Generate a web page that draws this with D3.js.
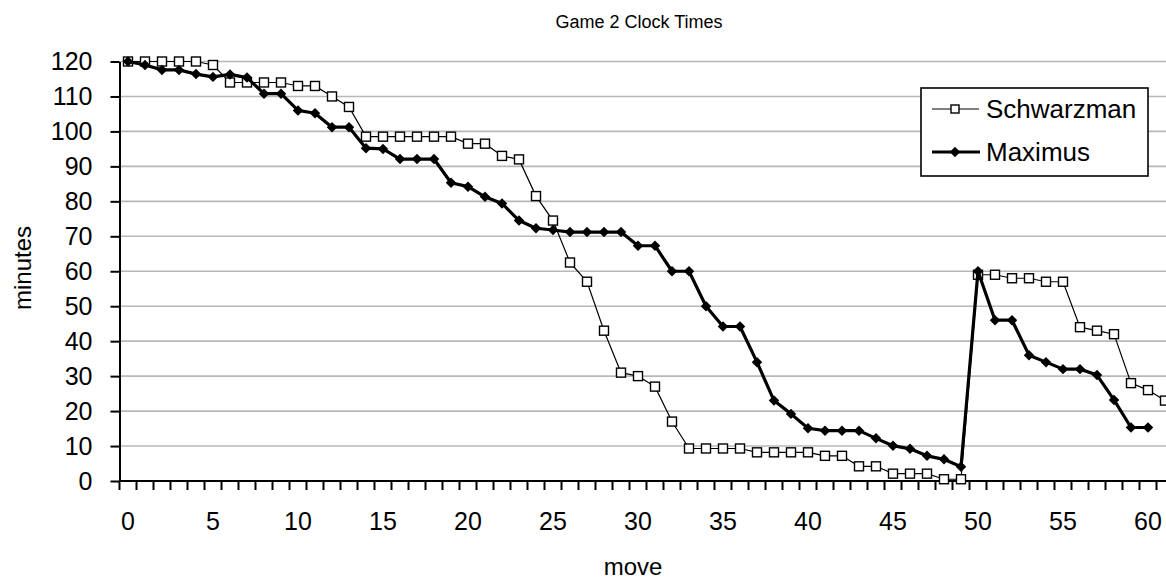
<!DOCTYPE html>
<html>
<head>
<meta charset="utf-8">
<script src="https://cdn.jsdelivr.net/npm/d3@7"></script>
<style>
  html, body { margin: 0; padding: 0; background: #fff; }
  svg { display: block; font-family: "Liberation Sans", Arial, sans-serif; }
</style>
</head>
<body>
<svg id="chart" width="1166" height="579"></svg>
<script>
// ---- data ----
const moves = [0,1,2,3,4,5,6,7,8,9,10,11,12,13,14,15,16,17,18,19,20,21,22,23,24,25,26,27,28,29,30,
  31,32,33,34,35,36,37,38,39,40,41,42,43,44,45,46,47,48,49,50,51,52,53,54,55,56,57,58,59,60,61];
const xTickLabels = [0,5,10,15,20,25,30,35,40,45,50,55,60];
const yTicks = [0,10,20,30,40,50,60,70,80,90,100,110,120];
const schwarzman = [120,120,120,120,120,119,114,114,114,114,113,113,110,107,98.5,98.5,98.5,98.5,98.5,98.5,
  96.5,96.5,93,92,81.5,74.5,62.5,57,43,31,30,27,17,9.3,9.3,9.3,9.3,8.2,8.2,8.2,8.2,7.2,7.2,4.2,4.2,
  2.1,2.1,2.1,0.5,0.5,59,59,58,58,57,57,44,43,42,28,26,23];
const maximus = [120,119,117.6,117.6,116.4,115.6,116.3,115.4,110.8,110.8,106,105.2,101.2,101.2,95.2,95,
  92.1,92.1,92.1,85.3,84.2,81.3,79.4,74.5,72.3,71.8,71.2,71.2,71.2,71.2,67.3,67.3,60,60,50,44.2,44.2,
  34,23,19.2,15.1,14.4,14.4,14.4,12.2,10.1,9.2,7.2,6.2,4.1,60,46,46,36,34,32,32,30.3,23.2,15.3,15.3];
const seriesNames = ["Schwarzman", "Maximus"];
const chartTitle = "Game 2 Clock Times";
const xTitle = "move";
const yTitle = "minutes";

(function () {
// ---- layout ----
const svg = d3.select("#chart");
const plotL = 119.5, plotT = 61.5, plotB = 481;
const bandW = 17;
const plotR = plotL + bandW * moves.length;

const x = d3.scaleBand().domain(moves).range([plotL, plotR]).padding(0);
const xc = d => x(d) + x.bandwidth() / 2;
const y = d3.scaleLinear().domain([0, 120]).range([plotB, plotT]);

// gridlines
svg.append("g")
  .selectAll("line").data(yTicks.filter(t => t > 0)).join("line")
  .attr("x1", plotL).attr("x2", plotR)
  .attr("y1", d => y(d)).attr("y2", d => y(d))
  .attr("stroke", "#b8b8b8").attr("stroke-width", 1.6);

// y axis
const yAxis = d3.axisLeft(y).tickValues(yTicks).tickSize(9).tickPadding(18).tickSizeOuter(0);
const gy = svg.append("g").attr("transform", `translate(${plotL},0)`).call(yAxis);
gy.select(".domain").attr("stroke", "#000").attr("stroke-width", 2);
gy.selectAll(".tick line").attr("stroke", "#000").attr("stroke-width", 2);
gy.selectAll(".tick text").attr("font-size", 25).attr("fill", "#000")
  .attr("font-family", "Liberation Sans, Arial, sans-serif");

// x axis: ticks at category boundaries
const boundaries = moves.map(m => x(m)).concat([plotR]);
svg.append("g").selectAll("line").data(boundaries).join("line")
  .attr("x1", d => d).attr("x2", d => d)
  .attr("y1", plotB).attr("y2", plotB + 9)
  .attr("stroke", "#000").attr("stroke-width", 2);
svg.append("line").attr("x1", plotL).attr("x2", plotR)
  .attr("y1", plotB).attr("y2", plotB).attr("stroke", "#000").attr("stroke-width", 2);
svg.append("g").selectAll("text").data(xTickLabels).join("text")
  .attr("x", d => xc(d)).attr("y", 521)
  .attr("text-anchor", "middle").attr("dominant-baseline", "central")
  .attr("font-size", 25).attr("fill", "#000").text(d => d);

// lines
const lineS = d3.line().x((d, i) => xc(moves[i])).y(d => y(d));
svg.append("path").datum(schwarzman).attr("d", lineS)
  .attr("fill", "none").attr("stroke", "#000").attr("stroke-width", 1.2);
svg.append("g").selectAll("rect").data(schwarzman).join("rect")
  .attr("x", (d, i) => xc(moves[i]) - 4.5).attr("y", d => y(d) - 4.5)
  .attr("width", 9).attr("height", 9)
  .attr("fill", "#fff").attr("stroke", "#000").attr("stroke-width", 1.4);

svg.append("path").datum(maximus).attr("d", lineS)
  .attr("fill", "none").attr("stroke", "#000").attr("stroke-width", 3.2).attr("stroke-linejoin", "round");
const diamond = d3.symbol().type(d3.symbolDiamond2).size(70);
svg.append("g").selectAll("path").data(maximus).join("path")
  .attr("transform", (d, i) => `translate(${xc(moves[i])},${y(d)})`)
  .attr("d", diamond).attr("fill", "#000");

// legend
const lg = svg.append("g");
lg.append("rect").attr("x", 921).attr("y", 88).attr("width", 227).attr("height", 88)
  .attr("fill", "#fff").attr("stroke", "#000").attr("stroke-width", 1.6);
const rows = [109, 152];
lg.append("line").attr("x1", 932).attr("x2", 979).attr("y1", rows[0]).attr("y2", rows[0])
  .attr("stroke", "#000").attr("stroke-width", 1.2);
lg.append("rect").attr("x", 955 - 4).attr("y", rows[0] - 4).attr("width", 8).attr("height", 8)
  .attr("fill", "#fff").attr("stroke", "#000").attr("stroke-width", 1.4);
lg.append("line").attr("x1", 932).attr("x2", 980).attr("y1", rows[1]).attr("y2", rows[1])
  .attr("stroke", "#000").attr("stroke-width", 3.2);
lg.append("path").attr("transform", `translate(955,${rows[1]})`).attr("d", diamond).attr("fill", "#000");
lg.selectAll("text").data(seriesNames).join("text")
  .attr("x", 986).attr("y", (d, i) => rows[i])
  .attr("dominant-baseline", "central").attr("font-size", 26).attr("fill", "#000").text(d => d);

// titles
svg.append("text").attr("x", 639).attr("y", 22).attr("text-anchor", "middle")
  .attr("dominant-baseline", "central").attr("font-size", 18).attr("fill", "#000").text(chartTitle);
svg.append("text").attr("x", 633).attr("y", 566).attr("text-anchor", "middle")
  .attr("dominant-baseline", "central").attr("font-size", 24).attr("fill", "#000").text(xTitle);
svg.append("text").attr("transform", "translate(22,268) rotate(-90)").attr("text-anchor", "middle")
  .attr("dominant-baseline", "central").attr("font-size", 24).attr("fill", "#000").text(yTitle);
})();
</script>
</body>
</html>
